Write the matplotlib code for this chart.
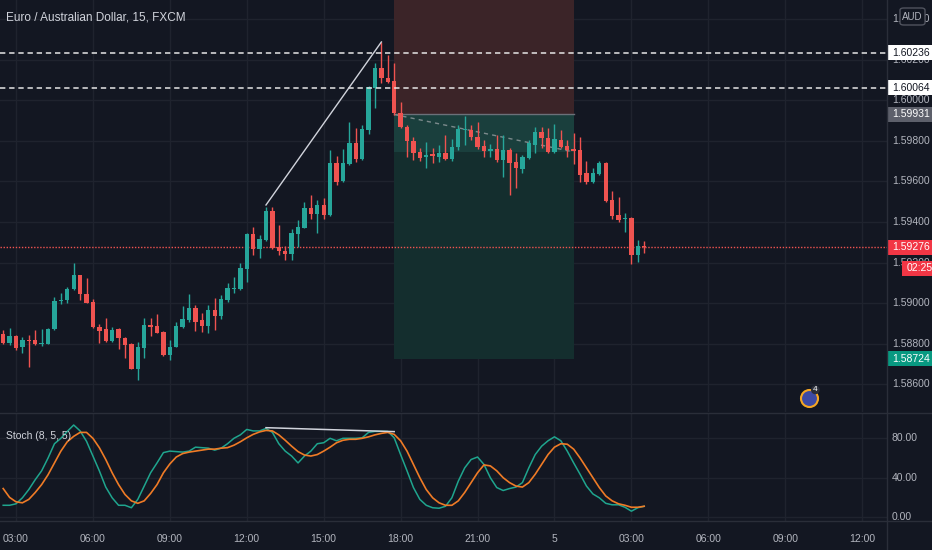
import numpy as np
import matplotlib.pyplot as plt
import matplotlib.transforms as mtransforms
from matplotlib.lines import Line2D
from matplotlib.patches import Rectangle, FancyBboxPatch

plt.rcParams['font.family'] = ['Liberation Sans', 'DejaVu Sans']

# EUR/AUD 15 min bars, bar 0 = 03:00 on day 4
bars = np.arange(-2, 99)
opens = [1.58847, 1.58804, 1.58837, 1.58781, 1.58816, 1.58817, 1.58796, 1.58799, 1.58870, 1.59011,
         1.59015, 1.59068, 1.59138, 1.59046, 1.59006, 1.58882, 1.58870, 1.58814, 1.58870, 1.58826,
         1.58796, 1.58673, 1.58779, 1.58891, 1.58886, 1.58858, 1.58743, 1.58784, 1.58883, 1.58916,
         1.58974, 1.58916, 1.58888, 1.58965, 1.58937, 1.59015, 1.59068, 1.59068, 1.59168, 1.59339,
         1.59267, 1.59311, 1.59454, 1.59275, 1.59258, 1.59242, 1.59341, 1.59372, 1.59468, 1.59440,
         1.59482, 1.59435, 1.59690, 1.59604, 1.59686, 1.59792, 1.59711, 1.59854, 1.60060, 1.60159,
         1.60113, 1.60098, 1.59937, 1.59871, 1.59801, 1.59744, 1.59719, 1.59734, 1.59721, 1.59741,
         1.59711, 1.59769, 1.59852, 1.59856, 1.59821, 1.59775, 1.59752, 1.59760, 1.59706, 1.59756,
         1.59698, 1.59662, 1.59717, 1.59780, 1.59846, 1.59816, 1.59747, 1.59805, 1.59777, 1.59760,
         1.59756, 1.59640, 1.59596, 1.59637, 1.59690, 1.59509, 1.59435, 1.59415, 1.59418, 1.59237,
         1.59281]
highs = [1.58867, 1.58877, 1.58842, 1.58832, 1.58842, 1.58867, 1.58872, 1.58877, 1.59031, 1.59049,
         1.59080, 1.59196, 1.59140, 1.59123, 1.59020, 1.58896, 1.58926, 1.58883, 1.58877, 1.58832,
         1.58802, 1.58809, 1.58926, 1.58926, 1.58946, 1.58862, 1.58817, 1.58908, 1.58983, 1.59043,
         1.58990, 1.58949, 1.58990, 1.59023, 1.59040, 1.59100, 1.59130, 1.59196, 1.59344, 1.59377,
         1.59336, 1.59476, 1.59473, 1.59385, 1.59281, 1.59364, 1.59410, 1.59500, 1.59533, 1.59509,
         1.59517, 1.59756, 1.59726, 1.59759, 1.59895, 1.59863, 1.59879, 1.60072, 1.60184, 1.60290,
         1.60225, 1.60184, 1.59994, 1.59879, 1.59821, 1.59764, 1.59796, 1.59765, 1.59780, 1.59830,
         1.59810, 1.59879, 1.59923, 1.59879, 1.59895, 1.59805, 1.59785, 1.59830, 1.59830, 1.59764,
         1.59739, 1.59731, 1.59805, 1.59868, 1.59871, 1.59863, 1.59884, 1.59854, 1.59805, 1.59838,
         1.59821, 1.59701, 1.59665, 1.59703, 1.59695, 1.59555, 1.59525, 1.59443, 1.59426, 1.59311,
         1.59308]
lows = [1.58796, 1.58793, 1.58768, 1.58755, 1.58685, 1.58793, 1.58789, 1.58798, 1.58867, 1.58995,
        1.59001, 1.59064, 1.59015, 1.58999, 1.58877, 1.58804, 1.58809, 1.58809, 1.58773, 1.58727,
        1.58673, 1.58620, 1.58727, 1.58837, 1.58850, 1.58738, 1.58719, 1.58783, 1.58875, 1.58908,
        1.58863, 1.58858, 1.58850, 1.58867, 1.58921, 1.59006, 1.59048, 1.59064, 1.59105, 1.59237,
        1.59221, 1.59308, 1.59268, 1.59237, 1.59212, 1.59212, 1.59278, 1.59370, 1.59413, 1.59344,
        1.59413, 1.59431, 1.59583, 1.59599, 1.59681, 1.59698, 1.59706, 1.59833, 1.59961, 1.60085,
        1.60085, 1.59928, 1.59863, 1.59722, 1.59706, 1.59703, 1.59665, 1.59691, 1.59696, 1.59704,
        1.59701, 1.59756, 1.59780, 1.59805, 1.59760, 1.59722, 1.59722, 1.59698, 1.59624, 1.59533,
        1.59566, 1.59640, 1.59710, 1.59739, 1.59764, 1.59742, 1.59739, 1.59764, 1.59719, 1.59686,
        1.59599, 1.59588, 1.59591, 1.59632, 1.59500, 1.59413, 1.59401, 1.59352, 1.59191, 1.59204,
        1.59245]
closes = [1.58804, 1.58837, 1.58779, 1.58817, 1.58812, 1.58798, 1.58800, 1.58872, 1.59011, 1.59016,
          1.59069, 1.59138, 1.59044, 1.59001, 1.58880, 1.58862, 1.58814, 1.58867, 1.58826, 1.58793,
          1.58674, 1.58784, 1.58891, 1.58883, 1.58853, 1.58743, 1.58784, 1.58886, 1.58920, 1.58974,
          1.58908, 1.58888, 1.58965, 1.58937, 1.59018, 1.59073, 1.59076, 1.59171, 1.59339, 1.59265,
          1.59315, 1.59454, 1.59270, 1.59257, 1.59242, 1.59344, 1.59374, 1.59468, 1.59440, 1.59482,
          1.59435, 1.59690, 1.59599, 1.59690, 1.59792, 1.59710, 1.59858, 1.60065, 1.60159, 1.60110,
          1.60093, 1.59937, 1.59868, 1.59798, 1.59742, 1.59717, 1.59731, 1.59726, 1.59741, 1.59711,
          1.59772, 1.59858, 1.59858, 1.59818, 1.59772, 1.59752, 1.59759, 1.59706, 1.59756, 1.59693,
          1.59665, 1.59722, 1.59789, 1.59846, 1.59813, 1.59747, 1.59808, 1.59772, 1.59756, 1.59752,
          1.59632, 1.59596, 1.59643, 1.59690, 1.59504, 1.59430, 1.59410, 1.59420, 1.59237, 1.59283,
          1.59276]

stoch_k = [12, 12, 13.5, 19.6, 28, 38, 47, 60, 74.5, 80, 87, 93.5, 87.5, 77, 62, 47, 30.5, 19.6, 12, 12,
           9.5, 18, 31.5, 45, 55, 65.5, 67, 66.5, 66, 67, 71, 70.5, 70, 68, 70, 74.5, 80, 83.5, 89, 87.5,
           87.5, 90, 86, 74.5, 67, 62, 55, 62, 67, 74.5, 75.5, 80, 77.5, 80, 80, 80, 80.5, 86, 87, 87,
           87, 80.5, 63.5, 47, 30, 18, 12, 9.5, 9, 11, 19.6, 36.5, 50, 58.5, 61, 53.5, 40, 30, 27, 29,
           30.5, 35, 50, 63.5, 72, 77.5, 81.5, 77.5, 67, 55, 43.5, 31.5, 23.5, 19.6, 14, 12.5, 12.5, 10, 6, 9.5,
           11]
stoch_d = [29, 20, 15.5, 14.5, 18, 25, 33, 43, 55, 67, 76.5, 82, 86, 86, 80, 70.5, 58.5, 45, 33, 23,
           16.5, 14, 16.5, 24, 33, 45, 54, 61, 64.5, 66, 67, 68, 69, 69, 70, 70.5, 73, 76.5, 80.5, 84,
           86.5, 88, 87.5, 83.5, 78, 72, 66.5, 63, 62, 63.5, 67, 71, 75.5, 78, 79, 79, 80, 81.5, 83.5, 85,
           86, 84, 77.5, 67, 53.5, 40, 28, 19.6, 14.5, 12, 12, 16.5, 25, 35, 45, 53, 52, 47, 40, 35,
           31.5, 30.5, 35, 43.5, 53.5, 63.5, 71, 74.5, 74, 69, 60, 50, 40, 30, 21.5, 16.5, 13.5, 12, 10, 10,
           11]

time_ticks = np.arange(0, 133, 12)
time_labels = ['03:00', '06:00', '09:00', '12:00', '15:00', '18:00', '21:00', '5',
               '03:00', '06:00', '09:00', '12:00']
price_ticks = [1.586, 1.588, 1.590, 1.592, 1.594, 1.596, 1.598, 1.600, 1.602, 1.604]
stoch_ticks = [0, 40, 80]

last_price = 1.59276
levels = [1.60236, 1.60064]
entry, target, stop = 1.59931, 1.58724, 1.60600
pos_start, pos_end, pos_close = 59, 87, 1.59746
trend_x, trend_y = [39, 57], [1.59484, 1.60289]
div_x, div_y = [39, 59], [90.8, 86.8]

BG = '#131722'
GRID = '#1f232e'
BORDER = '#2a2e39'
TEXT = '#b2b5be'
UP = '#26a69a'
DOWN = '#ef5350'
FS = 7.5

W, H = 932, 550
AX_R = 887
fig = plt.figure(figsize=(W / 100, H / 100), dpi=100, facecolor=BG)


def pane(top, bottom):
    a = fig.add_axes([0, 1 - bottom / H, AX_R / W, (bottom - top) / H])
    a.set_facecolor(BG)
    for s in a.spines.values():
        s.set_visible(False)
    a.tick_params(length=0, labelleft=False, labelbottom=False)
    a.set_xlim(-2.496, 135.88)
    a.grid(True, color=GRID, lw=1, zorder=0)
    a.set_axisbelow(True)
    return a


ax = pane(0, 412)
ax.set_ylim(1.584618, 1.604962)
ax.set_xticks(time_ticks)
ax.set_yticks(price_ticks)
ppx = (1.604962 - 1.584618) / 412  # price per pixel

sax = pane(413, 521)
sax.set_ylim(-3.96, 105.7)
sax.set_xticks(time_ticks)
sax.set_yticks(stoch_ticks)
sax.set_xticklabels(time_labels)
sax.tick_params(axis='x', labelbottom=True, labelsize=FS, colors=TEXT, pad=9)

# position tool
ax.add_patch(Rectangle((pos_start, entry), pos_end - pos_start, stop - entry,
                       color='#3b2428', lw=0, zorder=1))
ax.add_patch(Rectangle((pos_start, target), pos_end - pos_start, entry - target,
                       color='#142e2e', lw=0, zorder=1))
ax.add_patch(Rectangle((pos_start, pos_close), pos_end - pos_start, entry - pos_close,
                       color='#1a3f3d', lw=0, zorder=1))
ax.plot([pos_start, pos_end], [entry, entry], color='#6b7079', lw=1, zorder=1.5)
ax.plot([pos_start, pos_end], [entry, pos_close], color='#7c8a8c', lw=1,
        dashes=(3, 3), zorder=1.5)

# candles
colors = [UP if c >= o else DOWN for o, c in zip(opens, closes)]
o = np.array(opens)
c = np.array(closes)
bottoms = np.minimum(o, c)
heights = np.abs(c - o)
thin = heights < ppx
bottoms = np.where(thin, (o + c) / 2 - ppx / 2, bottoms)
heights = np.where(thin, ppx, heights)
ax.vlines(bars, lows, highs, colors=colors, lw=1, zorder=3)
ax.bar(bars, heights, bottom=bottoms, width=0.68, color=colors, lw=0, zorder=3.1)

# drawings
for lv in levels:
    ax.axhline(lv, color='#e6e6e6', lw=1.1, dashes=(3.5, 2.5), zorder=4)
ax.axhline(last_price, color=DOWN, lw=1, dashes=(1, 1.2), zorder=2)
ax.plot(trend_x, trend_y, color='#d1d4dc', lw=1, zorder=4)

ax.text(6 / AX_R, 1 - 17 / 412, 'Euro / Australian Dollar, 15, FXCM', transform=ax.transAxes,
        color='#d1d4dc', fontsize=8.5, va='center', ha='left')

# event icon
ax.scatter([123.7], [1.58531], s=150, facecolor='#3d4aa5', edgecolor='#f5a623', lw=1.5, zorder=5)
ax.scatter([124.7], [1.58571], s=40, facecolor='#2a2e39', edgecolor='none', zorder=6)
ax.text(124.7, 1.58571, '4', color='white', fontsize=6, ha='center', va='center', zorder=7)

# stochastic
sax.plot(bars, stoch_k, color='#1fa58e', lw=1.1, zorder=3)
sax.plot(bars, stoch_d, color='#ef7b26', lw=1.2, zorder=3)
sax.plot(div_x, div_y, color='#d1d4dc', lw=1.1, zorder=4)
sax.text(6 / AX_R, (521 - 436) / 108, 'Stoch (8, 5, 5)', transform=sax.transAxes,
         color='#d1d4dc', fontsize=FS, va='center', ha='left')

# price scale
tr = mtransforms.blended_transform_factory(ax.transAxes, ax.transData)
dx = 5 / AX_R
for p in price_ticks:
    ax.text(1 + dx, p, f'{p:.5f}', transform=tr, color=TEXT, fontsize=FS,
            va='center', ha='left', clip_on=False)

str_ = mtransforms.blended_transform_factory(sax.transAxes, sax.transData)
for v in stoch_ticks:
    sax.text(1 + dx, v, f'{v:.2f}', transform=str_, color=TEXT, fontsize=FS,
             va='center', ha='left', clip_on=False)


def price_tag(p, face, fg, text=None, x0=0.0, w=45, dy=0):
    y = p + dy * ppx
    ax.add_patch(Rectangle((1 + x0 / AX_R, y - 7.5 * ppx), w / AX_R, 15 * ppx,
                           transform=tr, color=face, lw=0, clip_on=False, zorder=8))
    ax.text(1 + (x0 + 5) / AX_R, y, text or f'{p:.5f}', transform=tr, color=fg,
            fontsize=FS, va='center', ha='left', clip_on=False, zorder=9)


price_tag(levels[0], '#ffffff', '#131722')
price_tag(levels[1], '#ffffff', '#131722')
price_tag(entry, '#5d606b', '#ffffff')
price_tag(last_price, '#f23645', '#ffffff')
price_tag(last_price, '#f23645', '#ffffff', text='02:25', x0=15, w=30, dy=-21)
price_tag(target, '#089981', '#ffffff')

# currency badge
fig.add_artist(FancyBboxPatch((900 / W, 1 - 25 / H), 25 / W, 17 / H,
                              boxstyle='round,pad=0,rounding_size=0.004',
                              transform=fig.transFigure, facecolor=BG,
                              edgecolor='#50535e', lw=1))
fig.text(912.5 / W, 1 - 16.5 / H, 'AUD', color=TEXT, fontsize=7, ha='center', va='center')

# pane borders
for yy in (412.5, 521):
    fig.add_artist(Line2D([0, 1], [1 - yy / H] * 2, transform=fig.transFigure, color=BORDER, lw=1))
fig.add_artist(Line2D([AX_R / W] * 2, [0, 1], transform=fig.transFigure, color=BORDER, lw=1))

fig.savefig('out.png', dpi=100, facecolor=BG)
